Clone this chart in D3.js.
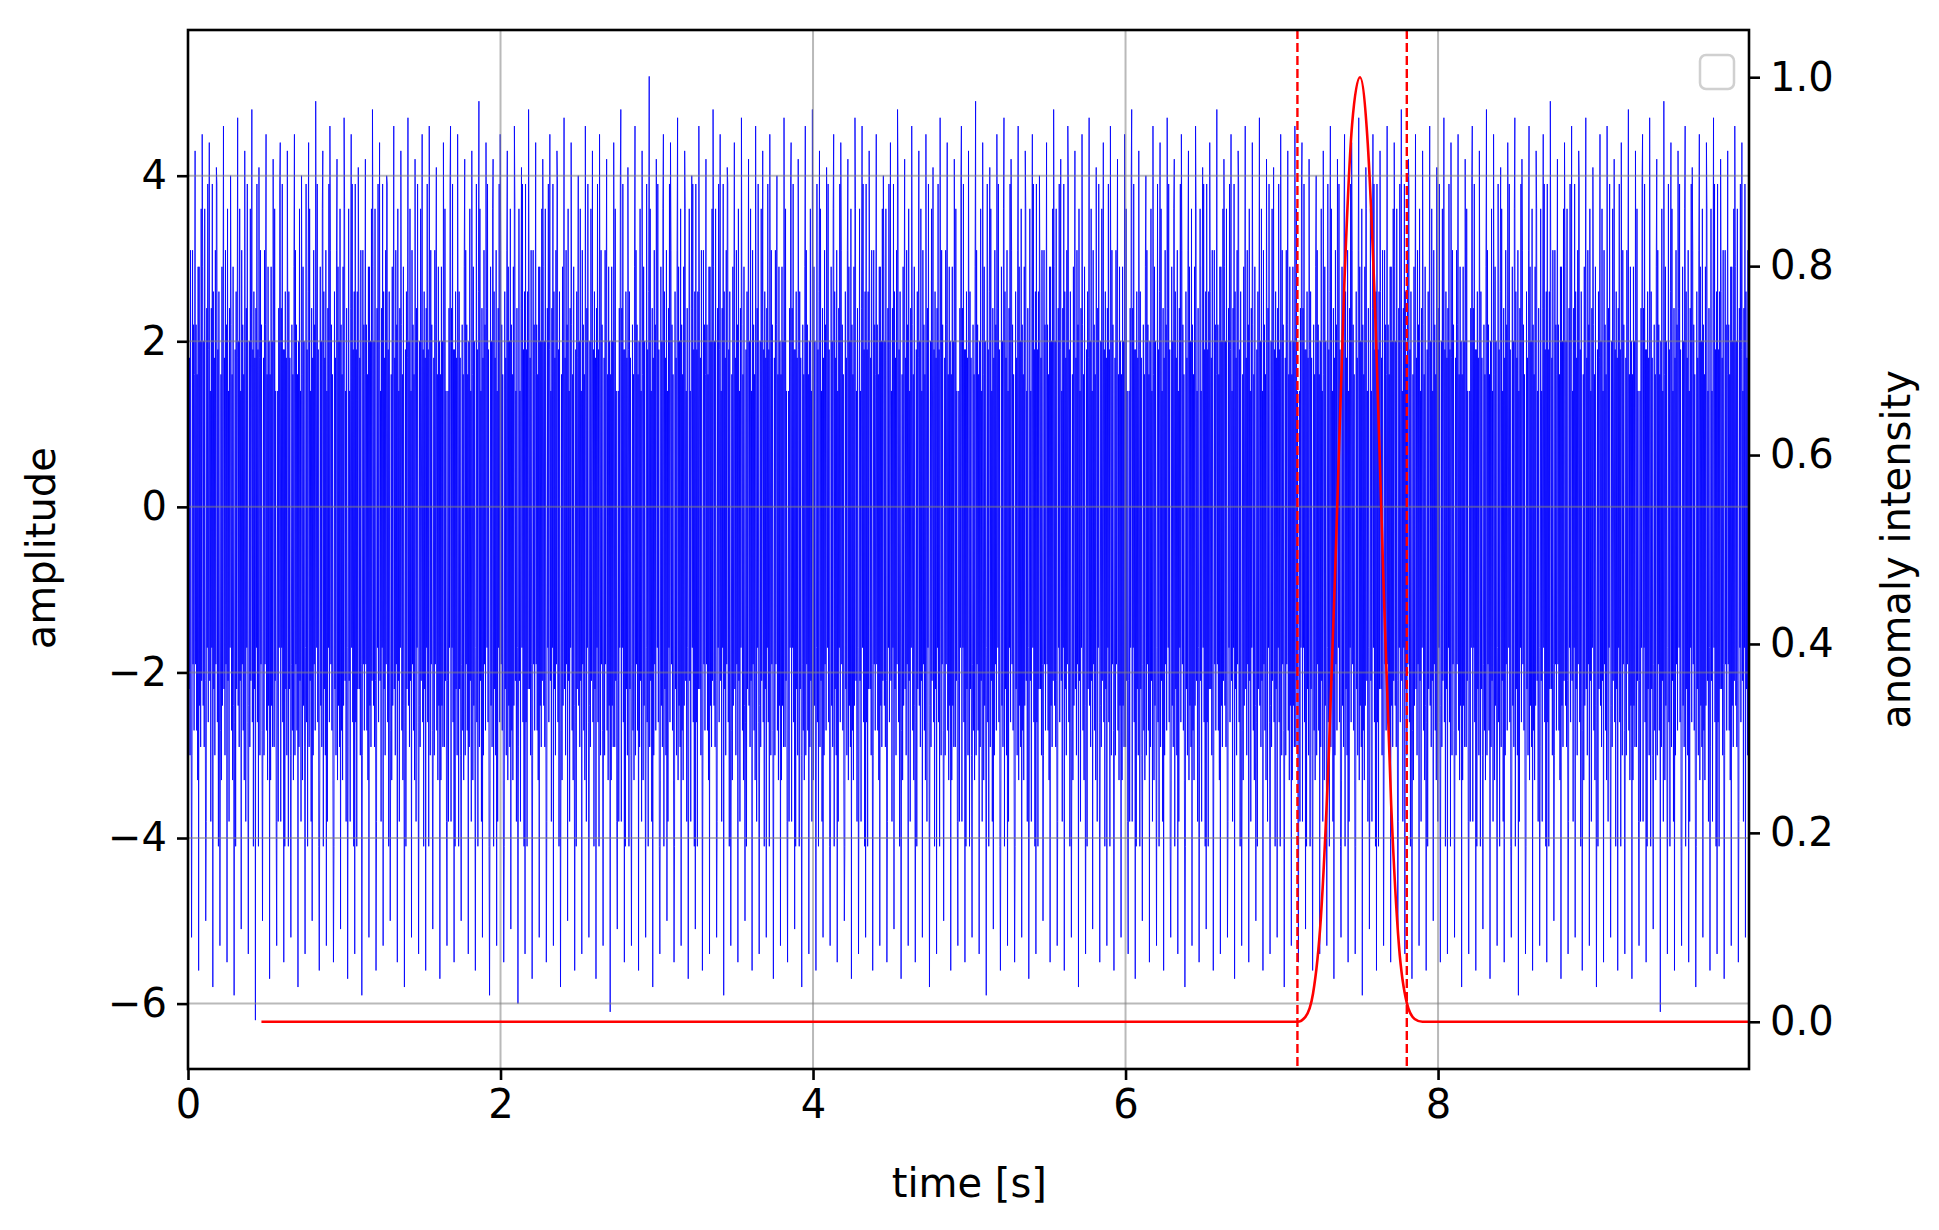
<!DOCTYPE html>
<html><head><meta charset="utf-8">
<script src="https://cdn.jsdelivr.net/npm/d3@7"></script>
<style>body{margin:0;background:#fff}svg{font-family:"DejaVu Sans",sans-serif}</style>
</head><body><div id="vizDiv"></div>
<script>
var width = 1939, height = 1230
var margin = {left: 188, right: 190, top: 30, bottom: 161}

// time span of the signal [s]
var tStart = 0, tEnd = 9.99
// per-cycle peak values (about 22 cycles per second)
var peaks = [
 4.6,4.3,4.5,4.4,4.1,4.6,4.0,4.7,4.3,4.8, 4.1,4.5,4.2,4.4,4.3,4.5,4.0,4.4,4.9,4.3,
 4.6,4.2,4.7,4.5,4.1,4.2,4.8,4.4,4.0,4.6, 4.3,4.7,4.2,4.5,4.6,4.1,4.4,4.6,4.5,4.2,
 4.3,4.9,4.4,4.2,4.5,4.3,4.6,4.1,4.8,4.4, 4.2,4.5,4.3,4.7,4.4,4.0,4.6,4.3,4.5,4.2,
 4.4,4.8,4.1,4.6,4.3,5.2,4.2,4.5,4.4,4.7, 4.3,4.0,4.6,4.2,4.8,4.5,4.1,4.4,4.7,4.2,
 4.6,4.3,4.5,4.0,4.7,4.4,4.2,4.6,4.8,4.3, 4.1,4.5,4.4,4.2,4.7,4.6,4.3,4.5,4.0,4.4,
 4.8,4.2,4.6,4.3,4.5,4.1,4.7,4.4,4.2,4.6, 4.3,4.9,4.4,4.1,4.5,4.7,4.2,4.6,4.3,4.5,
 4.0,4.4,4.8,4.2,4.6,4.3,4.5,4.7,4.1,4.4, 4.6,4.2,4.5,4.8,4.3,4.0,4.6,4.4,4.7,4.2,
 4.5,4.3,4.6,4.1,4.4,4.8,4.2,4.5,4.3,4.6, 4.4,4.7,4.2,4.1,4.5,4.3,4.6,4.4,4.2,4.0,
 4.3,4.6,4.2,4.5,4.4,4.7,4.1,4.5,4.3,4.6, 4.4,4.8,4.2,4.5,4.3,4.6,4.1,4.7,4.4,4.5,
 4.2,4.6,4.3,4.8,4.5,4.1,4.4,4.7,4.2,4.6, 4.3,4.5,4.9,4.2,4.4,4.6,4.3,4.7,4.1,4.5,
 4.6,4.2,4.4,4.8,4.3,4.5,4.7,4.2,4.9,4.4, 4.3,4.6,4.1,4.5,4.4,4.7,4.2,4.3,4.6,4.4
]
var troughs = [
 -5.2,-5.6,-5.0,-5.8,-5.3,-5.5,-5.9,-5.1,-5.4,-6.2, -5.0,-5.7,-5.3,-5.5,-5.2,-5.8,-5.4,-5.0,-5.6,-5.3,
 -5.5,-5.1,-5.7,-5.4,-5.9,-5.2,-5.6,-5.3,-5.0,-5.5, -5.8,-5.2,-5.4,-5.6,-5.1,-5.7,-5.3,-5.5,-5.0,-5.4,
 -5.6,-5.2,-5.9,-5.3,-5.5,-5.1,-6.0,-5.4,-5.7,-5.2, -5.5,-5.3,-5.8,-5.0,-5.6,-5.4,-5.2,-5.7,-5.3,-6.1,
 -5.1,-5.5,-5.3,-5.6,-5.2,-5.8,-5.4,-5.0,-5.5,-5.3, -5.7,-5.1,-5.6,-5.4,-5.2,-5.9,-5.3,-5.5,-5.0,-5.6,
 -5.4,-5.2,-5.7,-5.3,-5.5,-5.1,-5.8,-5.4,-5.6,-5.2, -5.3,-5.5,-5.0,-5.7,-5.4,-5.2,-5.6,-5.3,-5.5,-5.1,
 -5.7,-5.3,-5.5,-5.2,-5.8,-5.4,-5.0,-5.6,-5.3,-5.5, -5.2,-5.4,-5.9,-5.1,-5.6,-5.3,-5.5,-5.2,-5.7,-5.4,
 -5.0,-5.5,-5.3,-5.6,-5.2,-5.8,-5.4,-5.1,-5.5,-5.3, -5.6,-5.2,-5.4,-5.7,-5.0,-5.5,-5.3,-5.6,-5.2,-5.4,
 -5.8,-5.3,-5.5,-5.1,-5.6,-5.4,-5.2,-5.7,-5.3,-5.5, -5.0,-5.6,-5.4,-5.2,-5.8,-5.3,-5.5,-5.1,-5.6,-5.4,
 -5.3,-5.7,-5.2,-5.5,-5.4,-5.9,-5.1,-5.6,-5.3,-5.5, -5.2,-5.4,-5.7,-5.3,-5.6,-5.0,-5.5,-5.4,-5.2,-5.8,
 -5.4,-5.6,-5.1,-5.7,-5.3,-5.5,-5.2,-5.9,-5.4,-5.6, -5.3,-5.5,-5.0,-5.7,-5.4,-5.2,-5.6,-5.3,-5.8,-5.5,
 -5.2,-5.6,-5.4,-5.7,-5.3,-5.5,-5.1,-6.1,-5.4,-5.6, -5.3,-5.5,-5.8,-5.2,-5.6,-5.4,-5.7,-5.3,-5.5,-5.2
]
// smaller swings inside each cycle (the dense core of the band)
var innerSwings = [2.6,-2.2,1.8,-3.0,3.1,-1.9,2.2,-2.7,1.6,-3.3,2.9,-2.4,2.0,-2.9,3.6,-2.1,1.4,-3.8,2.4,-1.7,3.9,-2.6,1.9,-4.1]

// anomaly intensity (right axis)
var anomalyX = [0.47,7.10,7.15,7.20,7.25,7.30,7.35,7.40,7.45,7.50,7.55,7.60,7.65,7.70,7.75,7.80,7.85,7.90,9.99]
var anomalyY = [0,0,0.005,0.03,0.11,0.28,0.52,0.78,0.95,1.0,0.93,0.74,0.47,0.23,0.08,0.02,0.003,0,0]
var anomalyBounds = [7.10, 7.80]

var xTicks = [0,2,4,6,8]
var yTicks = [-6,-4,-2,0,2,4]
var y2Ticks = [0,0.2,0.4,0.6,0.8,1.0]

var svg = d3.select("#vizDiv").append("svg").attr("width", width).attr("height", height)

var x = d3.scaleLinear().domain([tStart, tEnd]).range([margin.left, width - margin.right])
var y = d3.scaleLinear().domain([-6.79, 5.76]).range([height - margin.bottom, margin.top])
var y2 = d3.scaleLinear().domain([-0.05, 1.05]).range([height - margin.bottom, margin.top])

svg.append("defs").append("clipPath").attr("id", "plotClip").append("rect")
  .attr("x", margin.left).attr("y", margin.top)
  .attr("width", width - margin.left - margin.right).attr("height", height - margin.top - margin.bottom)

// signal: each cycle goes peak -> inner swings -> trough -> inner swings
var signalPts = []
var n = peaks.length, k = innerSwings.length
var dt = (tEnd - tStart) / n
for (var i = 0; i < n; i++) {
  var t0 = tStart + dt * i
  var seq = [peaks[i]]
  for (var j = 0; j < 6; j++) seq.push(innerSwings[(i * 5 + j) % k])
  seq.push(troughs[i])
  for (var j = 0; j < 6; j++) seq.push(innerSwings[(i * 7 + j + 3) % k])
  seq.forEach(function(v, m) { signalPts.push([t0 + dt * m / seq.length, v]) })
}
svg.append("path")
  .attr("clip-path", "url(#plotClip)")
  .attr("d", d3.line().x(d => x(d[0])).y(d => y(d[1]))(signalPts))
  .attr("fill", "none").attr("stroke", "blue").attr("stroke-width", 0.9).attr("stroke-opacity", 0.95)

// grid (drawn over the signal, semi-transparent)
svg.append("g").selectAll("line").data(xTicks).enter().append("line")
  .attr("x1", d => x(d)).attr("x2", d => x(d)).attr("y1", margin.top).attr("y2", height - margin.bottom)
  .attr("stroke", "#808080").attr("stroke-opacity", 0.55).attr("stroke-width", 2)
svg.append("g").selectAll("line").data(yTicks).enter().append("line")
  .attr("x1", margin.left).attr("x2", width - margin.right).attr("y1", d => y(d)).attr("y2", d => y(d))
  .attr("stroke", "#808080").attr("stroke-opacity", 0.55).attr("stroke-width", 2)

// anomaly curve
svg.append("path")
  .attr("d", d3.line().curve(d3.curveMonotoneX).x((d, i) => x(anomalyX[i])).y(d => y2(d))(anomalyY))
  .attr("fill", "none").attr("stroke", "red").attr("stroke-width", 2.6)
svg.append("g").selectAll("line").data(anomalyBounds).enter().append("line")
  .attr("x1", d => x(d)).attr("x2", d => x(d)).attr("y1", margin.top).attr("y2", height - margin.bottom)
  .attr("stroke", "red").attr("stroke-width", 2.4).attr("stroke-dasharray", "9,4")

// frame
svg.append("rect").attr("x", margin.left).attr("y", margin.top)
  .attr("width", width - margin.left - margin.right).attr("height", height - margin.top - margin.bottom)
  .attr("fill", "none").attr("stroke", "black").attr("stroke-width", 2.6)

// empty legend box
svg.append("rect").attr("x", 1700).attr("y", 55).attr("width", 34).attr("height", 34).attr("rx", 6)
  .attr("fill", "white").attr("fill-opacity", 0.8).attr("stroke", "#d0d0d0").attr("stroke-width", 2.5)

// axes
function styleAxis(g) {
  g.select(".domain").remove()
  g.selectAll(".tick line").attr("stroke", "black").attr("stroke-width", 2.6)
  g.selectAll(".tick text").attr("font-size", 40).attr("fill", "black").attr("font-family", "DejaVu Sans")
}
var fmtMinus = d => (d < 0 ? "\u2212" + Math.abs(d) : "" + d)
svg.append("g").attr("transform", "translate(0," + (height - margin.bottom) + ")")
  .call(d3.axisBottom(x).tickValues(xTicks).tickSize(11).tickPadding(10).tickFormat(d => d)).call(styleAxis)
svg.append("g").attr("transform", "translate(" + margin.left + ",0)")
  .call(d3.axisLeft(y).tickValues(yTicks).tickSize(11).tickPadding(10).tickFormat(fmtMinus)).call(styleAxis)
svg.append("g").attr("transform", "translate(" + (width - margin.right) + ",0)")
  .call(d3.axisRight(y2).tickValues(y2Ticks).tickSize(11).tickPadding(10).tickFormat(d3.format(".1f"))).call(styleAxis)

svg.append("text").attr("x", x(5)).attr("y", 1197).attr("text-anchor", "middle")
  .attr("font-size", 40).text("time [s]")
svg.append("text").attr("transform", "translate(55," + y(-0.5) + ") rotate(-90)").attr("text-anchor", "middle")
  .attr("font-size", 40).text("amplitude")
svg.append("text").attr("transform", "translate(1910," + y2(0.5) + ") rotate(-90)").attr("text-anchor", "middle")
  .attr("font-size", 40).text("anomaly intensity")
</script></body></html>
